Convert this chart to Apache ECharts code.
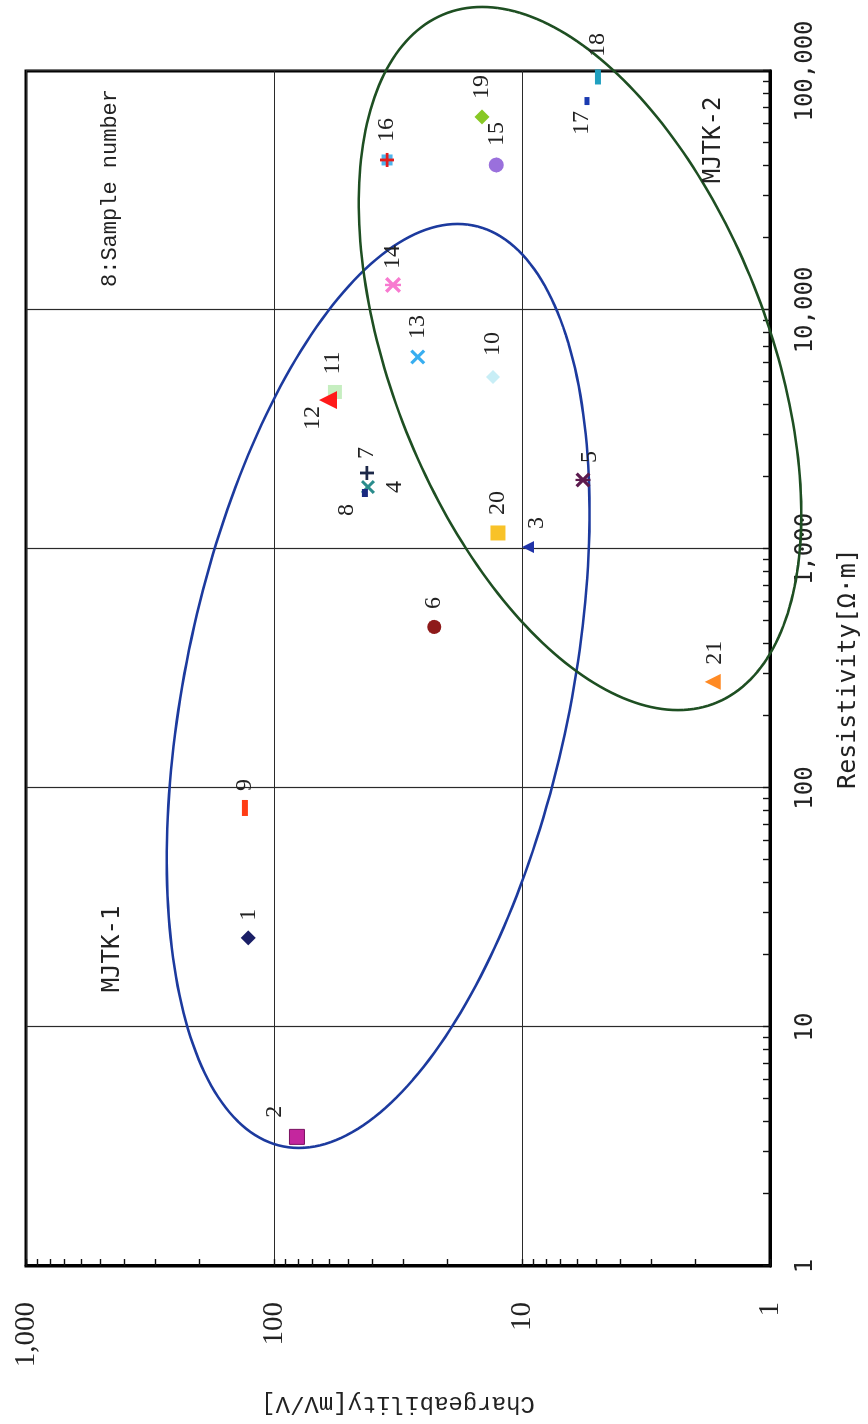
<!DOCTYPE html>
<html>
<head>
<meta charset="utf-8">
<script src="https://cdn.jsdelivr.net/npm/echarts@6/dist/echarts.min.js"></script>
<style>
html, body { margin: 0; padding: 0; background: #fff; overflow: hidden; }
#page { position: relative; width: 868px; height: 1424px; overflow: hidden; background: #fff; }
#chart { position: absolute; left: 0; top: 0; width: 1424px; height: 868px;
  transform-origin: 0 0; transform: translate(0, 1424px) rotate(-90deg); }
</style>
</head>
<body>
<div id="page"><div id="chart"></div></div>
<script>
// ---------------- data ----------------
const sampleIds     = ['1','2','3','4','5','6','7','8','9','10','11','12','13','14','15','16','17','18','19','20','21'];
const resistivity   = [23.6, 3.47, 1019, 1817, 1945, 472, 2080, 1715, 82.5, 5245, 4540, 4200, 6360, 12730, 40440, 42440, 74860, 94400, 64240, 1167, 278];
const chargeability = [127, 80.8, 9.46, 41.8, 5.68, 22.6, 42.2, 43.0, 131, 13.1, 56.8, 60.6, 26.3, 33.1, 12.7, 35.0, 5.47, 4.94, 14.5, 12.5, 1.70];

const resistivityTicks   = ['1', '10', '100', '1,000', '10,000', '100,000'];
const chargeabilityTicks = ['1', '10', '100', '1,000'];

// group ellipses in log10 space: centre, tip of the long axis (offset), spread along chargeability
const mjtk1Ellipse = [2.427, 1.58, 1.933, -0.32, 0.79];
const mjtk2Ellipse = [3.797, 0.766, 1.471, 0.395, 0.80];

// ---------------- styles ----------------
const PLUS = 'path://M4,0H6V4H10V6H6V10H4V6H0V4H4Z';
const CROSS = 'path://M1.5,0L5,3.5L8.5,0L10,1.5L6.5,5L10,8.5L8.5,10L5,6.5L1.5,10L0,8.5L3.5,5L0,1.5Z';
const STAR = 'path://M1.5,0L5,3.5L8.5,0L10,1.5L6.5,5L10,8.5L8.5,10L5,6.5L1.5,10L0,8.5L3.5,5L0,1.5Z M4.25,0H5.75V10H4.25Z';

const markerStyles = {
  '1':  { symbol: 'diamond',  size: 15,      color: '#1a1f66', label: [23, 0] },
  '2':  { symbol: 'rect',     size: 15,      color: '#c4269e', label: [25, -22], border: '#7a1060' },
  '3':  { symbol: 'triangle', size: 12,      color: '#2033a8', label: [24, 9] },
  '4':  { symbol: CROSS,      size: 14,      color: '#2a8c8c', label: [0, 27] },
  '5':  { symbol: STAR,       size: 15,      color: '#5c1a4e', label: [23, 7] },
  '6':  { symbol: 'circle',   size: 14,      color: '#8e1a1a', label: [24, 0] },
  '7':  { symbol: PLUS,       size: 14,      color: '#1c2848', label: [20, 0] },
  '8':  { symbol: 'rect',     size: [8, 6],  color: '#1a2a80', label: [-17, -18] },
  '9':  { symbol: 'rect',     size: [16, 6], color: '#ff3c14', label: [23, 0] },
  '10': { symbol: 'diamond',  size: 14,      color: '#c8eef6', label: [33, 0] },
  '11': { symbol: 'rect',     size: 14,      color: '#c6eec0', label: [29, -2] },
  '12': { symbol: 'triangle', size: 18,      color: '#ff1a1a', label: [-18, -15] },
  '13': { symbol: CROSS,      size: 15,      color: '#38aef0', label: [30, 0] },
  '14': { symbol: STAR,       size: 16,      color: '#f87ad0', label: [28, 0] },
  '15': { symbol: 'circle',   size: 15,      color: '#9a70dc', label: [31, 0] },
  '16': { symbol: PLUS,       size: 14,      color: '#e41c1c', label: [30, 0], under: '#4fb4ec' },
  '17': { symbol: 'rect',     size: [8, 5],  color: '#1a3ab0', label: [-22, -5] },
  '18': { symbol: 'rect',     size: [15, 6], color: '#20a0c0', label: [32, 0] },
  '19': { symbol: 'diamond',  size: 15,      color: '#88c825', label: [30, 0] },
  '20': { symbol: 'rect',     size: 15,      color: '#f8c228', label: [30, 0] },
  '21': { symbol: 'triangle', size: 16,      color: '#ff8a24', label: [29, 2] }
};

const NUM_FONT = '"Liberation Serif", "DejaVu Serif", serif';
const MONO_SERIF = '"Liberation Mono", "DejaVu Sans Mono", monospace';
const MONO_SANS = '"DejaVu Sans Mono", "Liberation Mono", monospace';

// minor tick positions (log paper: 2..9 in each decade), expressed as exponents
function minorExponents(decades) {
  const out = [];
  for (let d = 0; d < decades; d++) for (let k = 2; k <= 9; k++) out.push(d + Math.log10(k));
  return out;
}

// ---------------- series ----------------
const series = [];

function ellipseSeries(name, e, color) {
  return {
    type: 'custom', name: name, xAxisIndex: 0, yAxisIndex: 0,
    data: [[Math.pow(10, e[0]), Math.pow(10, e[1])]],
    clip: false, silent: true, z: 3,
    renderItem: function (params, api) {
      const pts = [];
      const n = 240;
      for (let k = 0; k <= n; k++) {
        const t = k / n * 2 * Math.PI;
        const u = e[0] + e[2] * Math.cos(t);
        const v = e[1] + e[3] * Math.cos(t) + e[4] * Math.sin(t);
        pts.push(api.coord([Math.pow(10, u), Math.pow(10, v)]));
      }
      return { type: 'polygon', shape: { points: pts },
        style: { fill: 'none', stroke: color, lineWidth: 2.6 } };
    }
  };
}
series.push(ellipseSeries('MJTK-1', mjtk1Ellipse, '#1c3a9e'));
series.push(ellipseSeries('MJTK-2', mjtk2Ellipse, '#1e4f22'));

sampleIds.forEach(function (id, i) {
  const s = markerStyles[id];
  if (s.under) {
    series.push({
      type: 'scatter', name: id + '-under', xAxisIndex: 0, yAxisIndex: 0, z: 4, silent: true,
      symbol: 'rect', symbolSize: s.size - 3,
      itemStyle: { color: s.under, opacity: 1 },
      data: [[resistivity[i], chargeability[i]]]
    });
  }
  series.push({
    type: 'scatter', name: id, xAxisIndex: 0, yAxisIndex: 0, z: 5,
    symbol: s.symbol, symbolSize: s.size,
    itemStyle: { color: s.color, opacity: 1, borderColor: s.border || s.color, borderWidth: s.border ? 1 : 0 },
    label: {
      show: true, position: 'inside', offset: s.label,
      formatter: id, color: '#222', fontFamily: NUM_FONT, fontSize: 24
    },
    data: [[resistivity[i], chargeability[i]]]
  });
});

// ---------------- chart ----------------
const chart = echarts.init(document.getElementById('chart'), null, { renderer: 'canvas' });

const tickStyle = { show: true, inside: true, length: 7, lineStyle: { color: '#111', width: 1.4 } };

chart.setOption({
  animation: false,
  backgroundColor: '#ffffff',
  grid: { left: 158, right: 71, top: 26, bottom: 98, show: true,
          borderColor: '#000', borderWidth: 3, backgroundColor: '#fff', containLabel: false },
  xAxis: [
    {
      type: 'log', logBase: 10, min: 1, max: 100000, position: 'bottom',
      name: 'Resistivity[Ω·m]', nameLocation: 'middle', nameGap: 66,
      nameTextStyle: { fontFamily: MONO_SANS, fontSize: 25, color: '#222' },
      axisLine: { show: true, lineStyle: { color: '#000', width: 3 } },
      axisTick: tickStyle,
      axisLabel: { margin: 24, fontFamily: MONO_SANS, fontSize: 24, color: '#222',
        formatter: function (v) { return resistivityTicks[Math.round(Math.log10(v))]; } },
      splitLine: { show: true, lineStyle: { color: '#2a2a2a', width: 1.2 } }
    },
    {
      type: 'value', min: 0, max: 5, position: 'bottom', show: true,
      axisLine: { show: false }, axisLabel: { show: false }, splitLine: { show: false },
      axisTick: Object.assign({}, tickStyle, { customValues: minorExponents(5) })
    }
  ],
  yAxis: [
    {
      type: 'log', logBase: 10, min: 1, max: 1000, position: 'left',
      name: 'Chargeability[mV/V]', nameLocation: 'middle', nameGap: 125,
      nameTextStyle: { fontFamily: MONO_SERIF, fontSize: 24, color: '#222' },
      axisLine: { show: true, lineStyle: { color: '#000', width: 3 } },
      axisTick: tickStyle,
      axisLabel: { margin: 36, fontFamily: NUM_FONT, fontSize: 29, color: '#222',
        formatter: function (v) { return chargeabilityTicks[Math.round(Math.log10(v))]; } },
      splitLine: { show: true, lineStyle: { color: '#2a2a2a', width: 1.2 } }
    },
    {
      type: 'value', min: 0, max: 3, position: 'left', show: true,
      axisLine: { show: false }, axisLabel: { show: false }, splitLine: { show: false },
      axisTick: Object.assign({}, tickStyle, { customValues: minorExponents(3) })
    }
  ],
  graphic: [
    { type: 'text', x: 1236, y: 110, z: 10,
      style: { text: '8:Sample number', font: '22px ' + MONO_SERIF, fill: '#222',
               align: 'center', verticalAlign: 'middle', textAlign: 'center', textVerticalAlign: 'middle' } },
    { type: 'text', x: 475, y: 113, z: 10,
      style: { text: 'MJTK-1', font: '24px ' + MONO_SANS, fill: '#222',
               align: 'center', verticalAlign: 'middle', textAlign: 'center', textVerticalAlign: 'middle' } },
    { type: 'text', x: 1284, y: 714, z: 10,
      style: { text: 'MJTK-2', font: '24px ' + MONO_SANS, fill: '#222',
               align: 'center', verticalAlign: 'middle', textAlign: 'center', textVerticalAlign: 'middle' } }
  ],
  series: series
});
</script>
</body>
</html>
